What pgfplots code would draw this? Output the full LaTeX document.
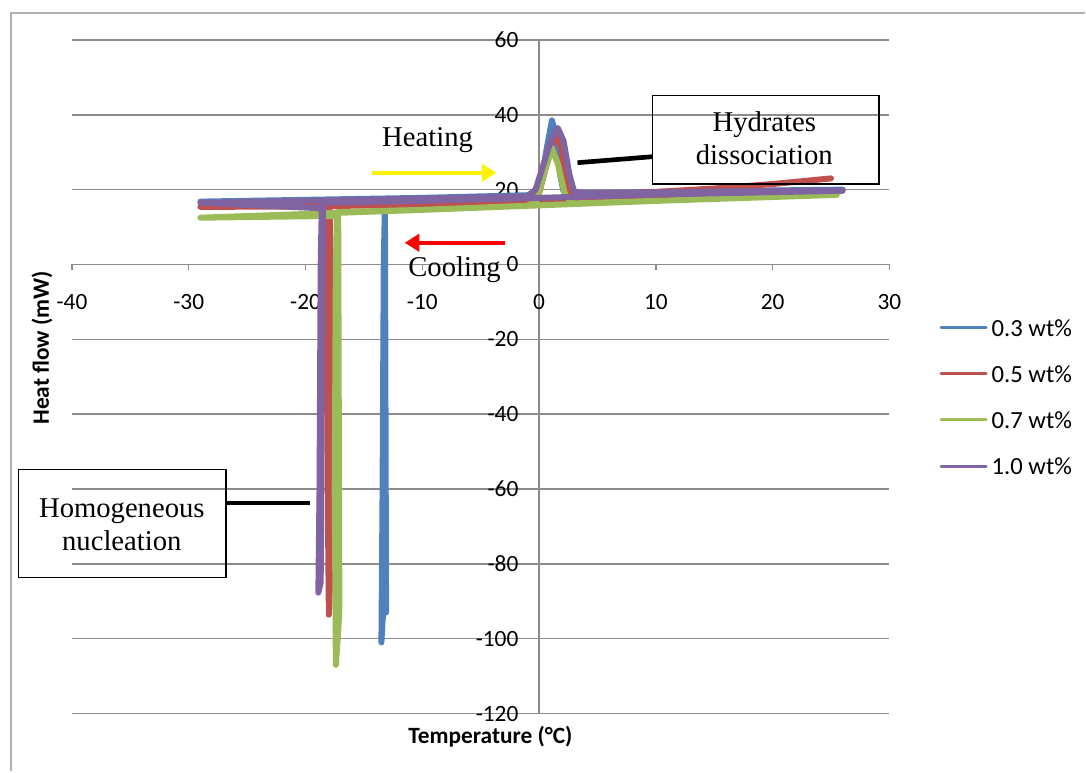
\documentclass[border=0pt]{standalone}
\usepackage{pgfplots}
\pgfplotsset{compat=1.18}
\usepackage{fontspec}
\setmainfont{Carlito}
\newfontfamily\seriffont{Liberation Serif}
\usetikzlibrary{arrows.meta}
\definecolor{xlblue}{HTML}{4F81BD}
\definecolor{xlred}{HTML}{C0504D}
\definecolor{xlgreen}{HTML}{9BBB59}
\definecolor{xlpurple}{HTML}{8064A2}
\definecolor{gridgray}{HTML}{8C8C8C}
\begin{document}
\begin{tikzpicture}
\path (0,0) rectangle (814.5pt,579pt);
\draw[color=gridgray!70, line width=1.1pt] (8.25pt,0pt) -- (8.25pt,569.25pt) -- (814.5pt,569.25pt);
\begin{axis}[
  at={(54pt,43.5pt)}, anchor=south west,
  scale only axis, width=613.5pt, height=505.5pt,
  xmin=-40, xmax=30, ymin=-120, ymax=60,
  enlargelimits=false, clip=false,
  axis lines=middle, axis line style={-, color=gridgray, line width=1.2pt},
  xtick={-40,-30,...,30}, ytick={-120,-100,...,60},
  hide obscured x ticks=false, hide obscured y ticks=false,
  ymajorgrids, grid style={color=gridgray, line width=1.1pt},
  tick style={color=gridgray, line width=1pt}, major tick length=4pt,
  tick align=outside,
  /pgf/number format/assume math mode=true,
  ticklabel style={font=\fontsize{17.5}{21}\selectfont, text=black},
  xticklabel style={anchor=center, yshift=-24pt},
  yticklabel style={anchor=east, xshift=-8pt},
  legend style={draw=none, fill=none, at={(1.0611,0.586)}, anchor=north west,
    font=\fontsize{18.5}{22}\selectfont, inner sep=0pt, row sep=21.6pt,
    nodes={inner ysep=0pt, inner xsep=3pt, text height=13pt, text depth=0pt}},
  legend cell align=left,
  legend image code/.code={\draw[#1, line width=2.25pt] (0pt,0pt) -- (33.75pt,0pt);},
  every axis plot/.append style={line width=4.5pt, line join=round, line cap=round},
]
% 0.3 wt%
\addplot[color=xlblue] coordinates {
(25.5,19.3) (10,18.2) (0,17.2) (-10,16.4) (-13.2,16.1) (-13.3,0) (-13.4,-60) (-13.5,-101)
(-13.4,-95) (-13.2,-90) (-13.1,-93) (-13.2,16) (-20,16.5) (-29,16.8)
(-10,17.8) (-1,18.5) (-0.3,19.5) (0.2,22) (0.6,30) (1.1,38.5) (1.5,34) (1.8,24) (2.1,19.5)
(3,19) (15,19.6) (26,20)
};
% 0.5 wt%
\addplot[color=xlred] coordinates {
(25,19) (10,17.8) (0,16.8) (-10,16) (-18,15.6) (-18.1,0) (-18.1,-60) (-18.0,-93.6)
(-17.9,-85) (-17.9,14) (-18,15.5) (-29,15.4)
(-15,16.3) (-5,17.3) (-1,17.8) (0,19) (0.5,25) (1.4,35.5) (1.9,31) (2.4,20) (3,18.5)
(10,19.4) (15,20.3) (20,21.5) (25,23)
};
% 0.7 wt%
\addplot[color=xlgreen] coordinates {
(25.5,18.6) (10,17) (0,15.8) (-10,14.6) (-17.3,14) (-17.4,0) (-17.5,-60) (-17.4,-107)
(-17.2,-98) (-17.1,-92) (-17.2,13) (-29,12.5)
(-10,14.6) (-1,15.7) (-0.2,17) (0.4,24) (1.1,31) (1.6,27) (2.2,19) (2.8,16.3) (10,17) (25.5,18.6)
};
% 1.0 wt%
\addplot[color=xlpurple] coordinates {
(26,19.7) (10,18.7) (0,17.8) (-10,17) (-18.6,16.5) (-18.7,0) (-18.8,-60) (-18.9,-87.7)
(-18.7,-85) (-18.5,15) (-29,16.5)
(-10,17.6) (-1,18.2) (-0.3,20) (0.3,26) (1.0,33) (1.6,36.5) (2.1,33) (2.6,24) (3.0,19.5)
(4,19) (15,19.5) (26,19.8)
};
\legend{0.3 wt\%, 0.5 wt\%, 0.7 wt\%, 1.0 wt\%}
% axis titles
\node[rotate=90, font=\fontsize{17.5}{21}\selectfont\bfseries] at (axis description cs:-0.0367,0.543) {Heat flow (mW)};
\node[font=\fontsize{17.5}{21}\selectfont\bfseries] at (axis description cs:0.512,-0.034) {Temperature (°C)};
% annotations
\node[font=\fontsize{21.5}{25}\seriffont] at (axis cs:-9.55,33.3) {Heating};
\node[font=\fontsize{21.5}{25}\seriffont] at (axis cs:-7.24,-1.4) {Cooling};
\draw[yellow, line width=3pt, -{Triangle[length=11pt,width=13pt]}] (axis cs:-14.34,24.5) -- (axis cs:-3.65,24.5);
\draw[red, line width=3pt, -{Triangle[length=11pt,width=13pt]}] (axis cs:-2.96,5.8) -- (axis cs:-11.5,5.8);
\draw[black, line width=1.1pt] (axis cs:9.7,45.1) rectangle (axis cs:29.1,21.5);
\node[font=\fontsize{21.5}{25}\seriffont, align=center] at (axis cs:19.29,33.7) {Hydrates\\dissociation};
\draw[black, line width=3.5pt] (axis cs:3.29,27.2) -- (axis cs:9.7,28.8);
\draw[black, line width=1.1pt] (axis cs:-44.6,-54.8) rectangle (axis cs:-26.8,-83.7);
\node[font=\fontsize{21.5}{25}\seriffont, align=center] at (axis cs:-35.73,-69.6) {Homogeneous\\nucleation};
\draw[black, line width=3.5pt] (axis cs:-26.8,-63.7) -- (axis cs:-19.6,-63.7);
\end{axis}
\end{tikzpicture}
\end{document}
